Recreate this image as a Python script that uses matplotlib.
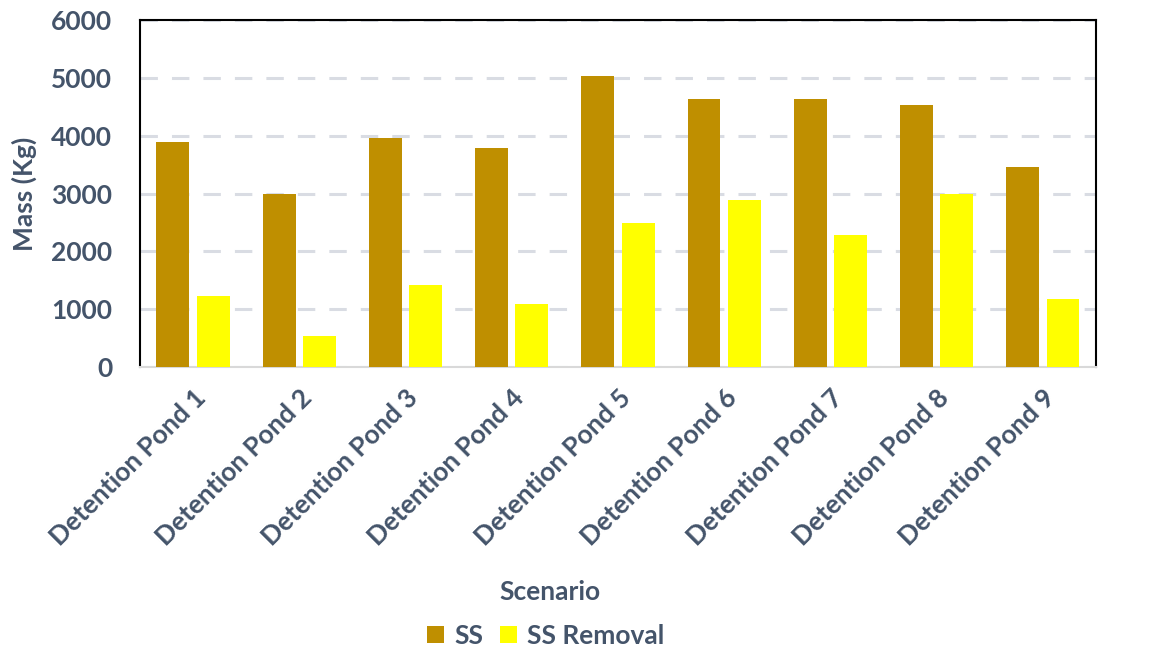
import matplotlib
matplotlib.use("Agg")
import matplotlib.pyplot as plt
import numpy as np

plt.rcParams["font.family"] = ["Lato", "DejaVu Sans"]
plt.rcParams["font.weight"] = "bold"

_TEXT = "#44546A"
_SS = "#BF8F00"
_REM = "#FFFF00"

scenarios = [f"Detention Pond {i}" for i in range(1, 10)]
ss = [3890, 2995, 3970, 3790, 5030, 4630, 4630, 4525, 3460]
ss_removal = [1230, 530, 1415, 1085, 2500, 2885, 2290, 2990, 1185]
yticks = [0, 1000, 2000, 3000, 4000, 5000, 6000]

fig = plt.figure(figsize=(11.54, 6.52), dpi=100)
ax = fig.add_axes([0.1213, 0.437, 0.8284, 0.532])

x = np.arange(len(scenarios))
w = 0.31
ax.bar(x - 0.19, ss, w, color=_SS, label="SS", zorder=3)
ax.bar(x + 0.19, ss_removal, w, color=_REM, label="SS Removal", zorder=3)

ax.set_xlim(-0.5, len(scenarios) - 0.5)
ax.set_ylim(0, 6000)
ax.set_yticks(yticks)
ax.yaxis.grid(True, color="#D9DCE3", linestyle=(0, (5.7, 4.6)), linewidth=2.2)
ax.set_axisbelow(True)

for s in ("top", "left", "right"):
    ax.spines[s].set_color("black")
    ax.spines[s].set_linewidth(1.5)
ax.spines["bottom"].set_color("#D9D9D9")
ax.spines["bottom"].set_linewidth(1.5)

ax.tick_params(length=0, labelsize=19, labelcolor=_TEXT)
ax.tick_params(axis="y", pad=20)
ax.tick_params(axis="x", pad=13)
ax.set_xticks(x)
ax.set_xticklabels(scenarios, rotation=45, ha="right", rotation_mode="anchor")
for lbl in ax.get_xticklabels() + ax.get_yticklabels():
    lbl.set_fontweight("bold")

ax.set_ylabel("Mass (Kg)", fontsize=19, color=_TEXT, fontweight="bold", labelpad=10)
fig.text(0.477, 0.092, "Scenario", fontsize=19, color=_TEXT, fontweight="bold",
         ha="center", va="center")

leg = fig.legend(loc="center", bbox_to_anchor=(0.473, 0.025), ncol=2, frameon=False,
                 fontsize=19, handlelength=0.65, handleheight=0.65, columnspacing=0.6,
                 handletextpad=0.4)
for t in leg.get_texts():
    t.set_color(_TEXT)
    t.set_fontweight("bold")

fig.savefig("out.png", dpi=100)
